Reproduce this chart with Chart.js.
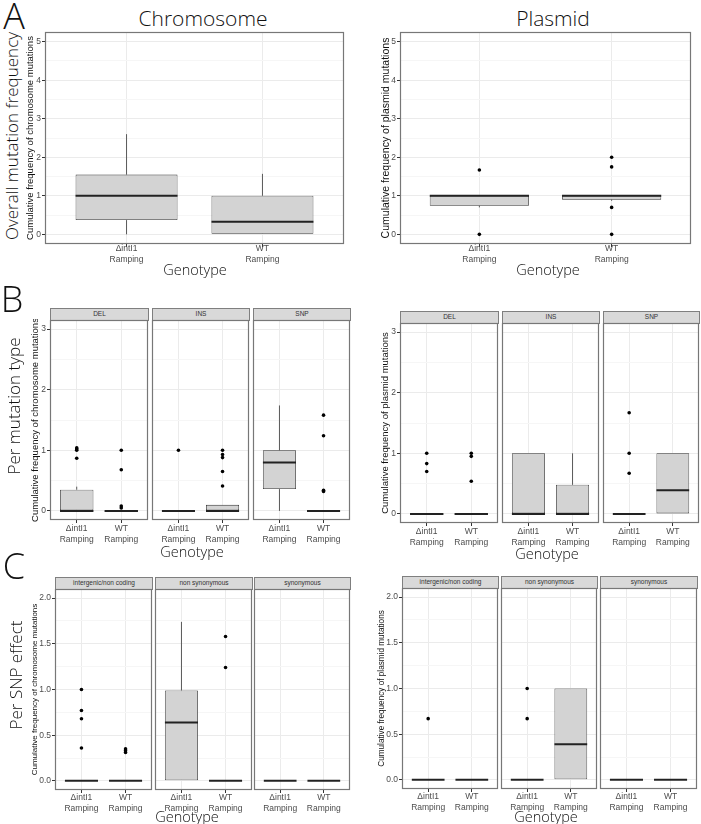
<!DOCTYPE html>
<html>
<head>
<meta charset="utf-8">
<script src="https://cdn.jsdelivr.net/npm/chart.js@4.4.1/dist/chart.umd.min.js"></script>
<style>
body { margin: 0; background: #fff; }
#fig { position: relative; width: 701px; height: 824px; overflow: hidden; }
#fig canvas { position: absolute; }
.txt { position: absolute; white-space: nowrap; line-height: 1; transform: translate(-50%, -50%);
       font-family: 'Open Sans', sans-serif; font-weight: 300; color: #111; }
.rot { transform: translate(-50%, -50%) rotate(-90deg); }
.strip { position: absolute; box-sizing: border-box; border: 1px solid #7f7f7f; background: #d9d9d9;
         font: 6.5px 'Liberation Sans', Arial, sans-serif; color: #333; text-align: center; line-height: 10px; }
</style>
</head>
<body>
<div id="fig"></div>
<script>
const genotypes = [['ΔintI1', 'Ramping'], ['WT', 'Ramping']];

// box stats per genotype: [lower whisker, Q1, median, Q3, upper whisker]
// A - overall
const chromAllBox = [[0, 0.37, 1.0, 1.55, 2.6], [0, 0, 0.33, 1.0, 1.57]];
const chromAllOut = [[], []];
const plasAllBox = [[0.7, 0.74, 1.0, 1.0, 1.0], [0.87, 0.9, 1.0, 1.0, 1.0]];
const plasAllOut = [[1.67, 0], [2.0, 1.75, 0.7, 0]];

// B - per mutation type
const typeFacets = ['DEL', 'INS', 'SNP'];
const chromDelBox = [[0, 0, 0, 0.35, 0.4], [0, 0, 0, 0, 0]];
const chromDelOut = [[1.04, 1.02, 1.0, 0.87], [1.0, 0.68, 0.08, 0.05]];
const chromInsBox = [[0, 0, 0, 0, 0], [0, 0, 0, 0.1, 0.1]];
const chromInsOut = [[1.0], [1.0, 0.93, 0.88, 0.65, 0.41]];
const chromSnpBox = [[0, 0.36, 0.8, 1.0, 1.74], [0, 0, 0, 0, 0]];
const chromSnpOut = [[], [1.58, 1.24, 0.34, 0.32]];
const plasDelBox = [[0, 0, 0, 0, 0], [0, 0, 0, 0, 0]];
const plasDelOut = [[1.0, 0.83, 0.7], [1.0, 0.95, 0.54]];
const plasInsBox = [[0, 0, 0, 1.0, 1.0], [0, 0, 0, 0.48, 1.0]];
const plasInsOut = [[], []];
const plasSnpBox = [[0, 0, 0, 0, 0], [0, 0, 0.39, 1.0, 1.0]];
const plasSnpOut = [[1.67, 1.0, 0.67], []];

// C - per SNP effect
const effectFacets = ['intergenic/non coding', 'non synonymous', 'synonymous'];
const chromInterBox = [[0, 0, 0, 0, 0], [0, 0, 0, 0, 0]];
const chromInterOut = [[1.0, 0.77, 0.68, 0.36], [0.35, 0.33, 0.31]];
const chromNonsynBox = [[0, 0, 0.64, 0.99, 1.74], [0, 0, 0, 0, 0]];
const chromNonsynOut = [[], [1.58, 1.24]];
const chromSynBox = [[0, 0, 0, 0, 0], [0, 0, 0, 0, 0]];
const chromSynOut = [[], []];
const plasInterBox = [[0, 0, 0, 0, 0], [0, 0, 0, 0, 0]];
const plasInterOut = [[0.67], []];
const plasNonsynBox = [[0, 0, 0, 0, 0], [0, 0, 0.39, 1.0, 1.0]];
const plasNonsynOut = [[1.0, 0.67], []];
const plasSynBox = [[0, 0, 0, 0, 0], [0, 0, 0, 0, 0]];
const plasSynOut = [[], []];

// tick labels
const yTicksA = [0, 1, 2, 3, 4, 5];
const yTicksB = [0, 1, 2, 3];
const yTicksC = [0, 0.5, 1.0, 1.5, 2.0];

Chart.defaults.font.family = "'Liberation Sans', Arial, sans-serif";

const fig = document.getElementById('fig');

function text(str, x, y, size, rot) {
    const d = document.createElement('div');
    d.className = rot ? 'txt rot' : 'txt';
    d.style.left = x + 'px';
    d.style.top = y + 'px';
    d.style.fontSize = size + 'px';
    d.textContent = str;
    fig.appendChild(d);
}

function strip(str, l, r, t) {
    const d = document.createElement('div');
    d.className = 'strip';
    d.style.left = l + 'px';
    d.style.top = (t - 12) + 'px';
    d.style.width = (r - l + 1) + 'px';
    d.style.height = '13px';
    d.textContent = str;
    fig.appendChild(d);
}

// whiskers under the boxes, medians + panel border on top
const boxPlugin = {
    id: 'boxes',
    beforeDatasetsDraw(chart) {
        const { ctx, scales: { x, y } } = chart;
        chart.data.datasets.forEach(ds => {
            if (!ds.stats) return;
            ctx.save();
            ctx.strokeStyle = '#333';
            ctx.lineWidth = 0.8;
            ds.stats.forEach((s, i) => {
                const px = x.getPixelForValue(i + 1);
                ctx.beginPath();
                ctx.moveTo(px, y.getPixelForValue(s[0]));
                ctx.lineTo(px, y.getPixelForValue(s[1]));
                ctx.moveTo(px, y.getPixelForValue(s[3]));
                ctx.lineTo(px, y.getPixelForValue(s[4]));
                ctx.stroke();
            });
            ctx.restore();
        });
    },
    afterDatasetsDraw(chart) {
        const { ctx, scales: { x, y }, chartArea: a } = chart;
        const half = x.getPixelForValue(1.375) - x.getPixelForValue(1);
        ctx.save();
        chart.data.datasets.forEach(ds => {
            if (!ds.stats) return;
            ctx.strokeStyle = '#222';
            ctx.lineWidth = 2;
            ds.stats.forEach((s, i) => {
                const px = x.getPixelForValue(i + 1);
                const py = y.getPixelForValue(s[2]);
                ctx.beginPath();
                ctx.moveTo(px - half, py);
                ctx.lineTo(px + half, py);
                ctx.stroke();
            });
        });
        ctx.strokeStyle = '#777';
        ctx.lineWidth = 1.2;
        ctx.strokeRect(a.left + 0.5, a.top + 0.5, a.width - 1, a.height - 1);
        ctx.restore();
    }
};

function panel(p) {
    const yW = p.yTitle ? p.yW : 0;
    const xH = 30;
    const cv = document.createElement('canvas');
    cv.width = p.r - p.l + yW + 2;
    cv.height = p.b - p.t + xH + 2;
    cv.style.left = (p.l - yW - 1) + 'px';
    cv.style.top = (p.t - 1) + 'px';
    fig.appendChild(cv);

    const major = new Set(p.ticks);
    const allTicks = [];
    p.ticks.forEach((v, i) => {
        allTicks.push(v);
        if (i < p.ticks.length - 1) allTicks.push((v + p.ticks[i + 1]) / 2);
    });

    const outliers = [];
    p.out.forEach((vals, i) => vals.forEach(v => outliers.push({ x: i + 1, y: v })));

    new Chart(cv, {
        type: 'bar',
        data: {
            datasets: [
                {
                    type: 'scatter',
                    data: outliers,
                    pointRadius: 1.8,
                    pointHoverRadius: 1.8,
                    pointBackgroundColor: '#000',
                    pointBorderWidth: 0,
                    order: 0
                },
                {
                    type: 'bar',
                    data: p.boxes.map((s, i) => ({ x: i + 1, y: [s[1], s[3]] })),
                    stats: p.boxes,
                    backgroundColor: '#d3d3d3',
                    borderColor: '#333',
                    borderWidth: 0.8,
                    borderSkipped: false,
                    barPercentage: 0.75,
                    categoryPercentage: 1,
                    order: 1
                }
            ]
        },
        options: {
            responsive: false,
            animation: false,
            events: [],
            layout: { autoPadding: false, padding: { left: 1, top: 1, right: 1, bottom: 1 } },
            plugins: { legend: { display: false }, tooltip: { enabled: false } },
            scales: {
                x: {
                    type: 'linear',
                    min: 0.4,
                    max: 2.6,
                    offset: false,
                    afterBuildTicks: s => { s.ticks = [{ value: 1 }, { value: 2 }]; },
                    afterFit: s => { s.height = xH; s.paddingLeft = 0; s.paddingRight = 0; },
                    grid: { offset: false, color: '#ebebeb', tickColor: '#333', tickLength: 3 },
                    border: { display: false },
                    ticks: {
                        autoSkip: false, maxRotation: 0, padding: p.xPad, color: '#4d4d4d',
                        font: { size: 8.5, lineHeight: 1.2 },
                        callback: v => genotypes[v - 1]
                    }
                },
                y: {
                    min: p.yMin,
                    max: p.yMax,
                    afterBuildTicks: s => { s.ticks = allTicks.map(v => ({ value: v })); },
                    afterFit: s => { s.width = yW; s.paddingTop = 0; s.paddingBottom = 0; },
                    grid: {
                        color: c => major.has(c.tick.value) ? '#ebebeb' : '#f6f6f6',
                        tickColor: c => major.has(c.tick.value) ? '#333' : 'rgba(0,0,0,0)',
                        tickLength: 3,
                        drawTicks: !!p.yTitle
                    },
                    border: { display: false },
                    ticks: {
                        display: !!p.yTitle, autoSkip: false, padding: 1, color: '#4d4d4d',
                        font: { size: 8.5 },
                        callback: v => major.has(v) ? v.toFixed(p.dec) : ''
                    },
                    title: {
                        display: !!p.yTitle, text: p.yTitle || '', color: '#111',
                        font: { size: p.titleSize || 10 }, padding: { top: 1, bottom: 0 }
                    }
                }
            }
        },
        plugins: [boxPlugin]
    });
}

// ---- row A
text('A', 14, 16, 36);
text('Chromosome', 203, 18, 21);
text('Plasmid', 553, 18, 21);
text('Overall mutation frequency', 11, 136, 17, true);
panel({ l: 45, t: 32, r: 344, b: 244, yMin: -0.25, yMax: 5.25, ticks: yTicksA, dec: 0, xPad: -3,
        yTitle: 'Cumulative frequency of chromosome mutations', yW: 21, titleSize: 9.5,
        boxes: chromAllBox, out: chromAllOut });
panel({ l: 400, t: 32, r: 691, b: 244, yMin: -0.25, yMax: 5.25, ticks: yTicksA, dec: 0, xPad: -3,
        yTitle: 'Cumulative frequency of plasmid mutations', yW: 21, titleSize: 10.5,
        boxes: plasAllBox, out: plasAllOut });
text('Genotype', 195, 270, 14.5);
text('Genotype', 548, 270, 14.5);

// ---- row B
text('B', 12, 299, 36);
text('Per mutation type', 13, 406, 17, true);
const chromTypeX = [[50, 148], [152, 249], [253, 350]];
const chromTypeData = [[chromDelBox, chromDelOut], [chromInsBox, chromInsOut], [chromSnpBox, chromSnpOut]];
chromTypeX.forEach(([l, r], i) => {
    strip(typeFacets[i], l, r, 320);
    panel({ l, t: 320, r, b: 520, yMin: -0.15, yMax: 3.15, ticks: yTicksB, dec: 0, xPad: 1,
            yTitle: i === 0 ? 'Cumulative frequency of chromosome mutations' : null, yW: 21, titleSize: 9.5,
            boxes: chromTypeData[i][0], out: chromTypeData[i][1] });
});
const plasTypeX = [[400, 498], [502, 599], [603, 699]];
const plasTypeData = [[plasDelBox, plasDelOut], [plasInsBox, plasInsOut], [plasSnpBox, plasSnpOut]];
plasTypeX.forEach(([l, r], i) => {
    strip(typeFacets[i], l, r, 323);
    panel({ l, t: 323, r, b: 523, yMin: -0.15, yMax: 3.15, ticks: yTicksB, dec: 0, xPad: 1,
            yTitle: i === 0 ? 'Cumulative frequency of plasmid mutations' : null, yW: 21, titleSize: 9.5,
            boxes: plasTypeData[i][0], out: plasTypeData[i][1] });
});
text('Genotype', 192, 552, 14.5);
text('Genotype', 547, 554, 14.5);

// ---- row C
text('C', 14, 566, 36);
text('Per SNP effect', 15, 675, 17, true);
const chromEffX = [[55, 152], [155, 252], [254, 350]];
const chromEffData = [[chromInterBox, chromInterOut], [chromNonsynBox, chromNonsynOut], [chromSynBox, chromSynOut]];
chromEffX.forEach(([l, r], i) => {
    strip(effectFacets[i], l, r, 589);
    panel({ l, t: 589, r, b: 790, yMin: -0.1, yMax: 2.1, ticks: yTicksC, dec: 1, xPad: 0,
            yTitle: i === 0 ? 'Cumulative frequency of chromosome mutations' : null, yW: 26, titleSize: 8,
            boxes: chromEffData[i][0], out: chromEffData[i][1] });
});
const plasEffX = [[402, 498], [501, 597], [600, 697]];
const plasEffData = [[plasInterBox, plasInterOut], [plasNonsynBox, plasNonsynOut], [plasSynBox, plasSynOut]];
plasEffX.forEach(([l, r], i) => {
    strip(effectFacets[i], l, r, 588);
    panel({ l, t: 588, r, b: 789, yMin: -0.1, yMax: 2.1, ticks: yTicksC, dec: 1, xPad: 0,
            yTitle: i === 0 ? 'Cumulative frequency of plasmid mutations' : null, yW: 26, titleSize: 8.2,
            boxes: plasEffData[i][0], out: plasEffData[i][1] });
});
text('Genotype', 187, 817, 14.5);
text('Genotype', 546, 817, 14.5);
</script>
</body>
</html>
